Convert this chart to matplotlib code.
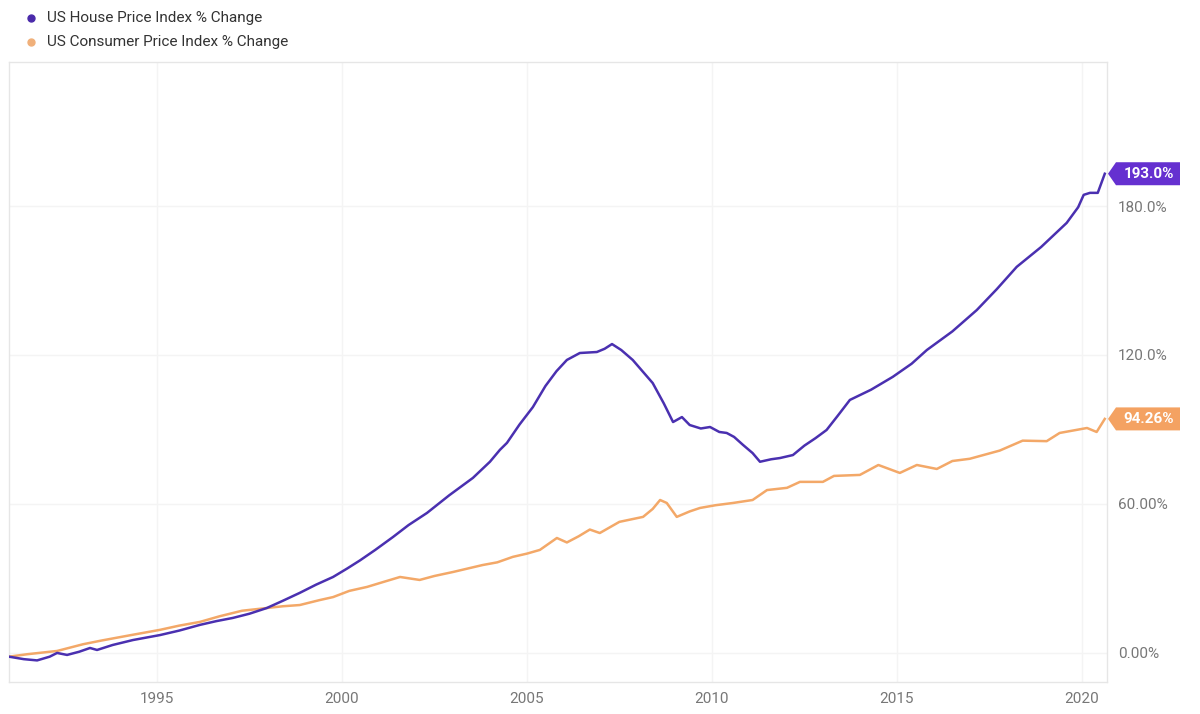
import matplotlib
matplotlib.use("Agg")
import matplotlib.pyplot as plt
from matplotlib.patches import Polygon
from matplotlib.lines import Line2D
from matplotlib.transforms import IdentityTransform

plt.rcParams['font.family'] = ['Roboto', 'DejaVu Sans']

# ---- data ----
house_years = [1991.00, 1991.40, 1991.76, 1992.10, 1992.30, 1992.57, 1992.90, 1993.19, 1993.38,
               1993.80, 1994.35, 1995.08, 1995.60, 1996.16, 1996.60, 1997.05, 1997.50, 1997.97,
               1998.40, 1998.86, 1999.30, 1999.76, 2000.14, 2000.49, 2000.90, 2001.38, 2001.80,
               2002.30, 2002.90, 2003.54, 2004.00, 2004.27, 2004.46, 2004.80, 2005.16, 2005.50,
               2005.80, 2006.08, 2006.43, 2006.89, 2007.10, 2007.30, 2007.55, 2007.86, 2008.40,
               2008.70, 2008.95, 2009.19, 2009.40, 2009.70, 2009.95, 2010.20, 2010.40, 2010.60,
               2010.84, 2011.10, 2011.30, 2011.60, 2011.84, 2012.19, 2012.50, 2012.80, 2013.10,
               2013.40, 2013.73, 2014.30, 2014.89, 2015.40, 2015.81, 2016.50, 2017.16, 2017.70,
               2018.24, 2018.90, 2019.59, 2019.90, 2020.05, 2020.22, 2020.43, 2020.62]
house_values = [-1.5, -2.5, -3.0, -1.5, 0.0, -0.8, 0.5, 2.0, 1.2,
                3.2, 5.2, 7.2, 9.0, 11.3, 12.8, 14.1, 15.8, 18.1,
                21.0, 24.2, 27.5, 30.6, 34.0, 37.3, 41.5, 46.7, 51.5,
                56.4, 63.5, 70.5, 77.0, 81.8, 84.6, 92.0, 99.0, 107.5,
                113.5, 118.0, 120.8, 121.2, 122.5, 124.4, 122.0, 118.0, 108.7,
                100.5, 93.0, 95.0, 91.8, 90.4, 91.0, 89.0, 88.6, 87.0,
                83.8, 80.5, 77.0, 78.0, 78.5, 79.7, 83.5, 86.5, 89.8,
                95.5, 101.9, 106.0, 111.2, 116.5, 122.0, 129.5, 138.1, 146.5,
                155.5, 163.5, 173.2, 179.5, 184.5, 185.3, 185.3, 193.0]

cpi_years = [1991.00, 1991.50, 1992.30, 1993.00, 1993.50, 1994.30, 1995.08, 1995.60, 1996.16,
             1996.70, 1997.30, 1997.97, 1998.40, 1998.86, 1999.40, 1999.76, 2000.20, 2000.68,
             2001.10, 2001.57, 2002.10, 2002.50, 2003.00, 2003.40, 2003.80, 2004.20, 2004.62,
             2005.00, 2005.35, 2005.81, 2006.08, 2006.40, 2006.70, 2006.97, 2007.50, 2008.14,
             2008.40, 2008.60, 2008.78, 2009.05, 2009.40, 2009.68, 2010.10, 2010.57, 2011.10,
             2011.49, 2012.03, 2012.38, 2013.00, 2013.30, 2014.00, 2014.50, 2015.08, 2015.54,
             2016.08, 2016.50, 2016.97, 2017.78, 2018.40, 2019.05, 2019.40, 2020.14, 2020.40,
             2020.62]
cpi_values = [-1.5, -0.5, 0.8, 3.5, 5.0, 7.2, 9.3, 11.0, 12.5,
              14.8, 17.0, 18.1, 18.8, 19.3, 21.3, 22.5, 25.0, 26.6,
              28.5, 30.6, 29.4, 31.0, 32.6, 34.0, 35.4, 36.5, 38.7,
              40.0, 41.5, 46.3, 44.5, 47.0, 49.7, 48.3, 52.8, 54.8,
              58.0, 61.6, 60.4, 54.8, 57.0, 58.4, 59.5, 60.4, 61.6,
              65.6, 66.5, 68.9, 68.9, 71.3, 71.7, 75.7, 72.5, 75.7,
              74.1, 77.3, 78.2, 81.5, 85.5, 85.3, 88.6, 90.6, 89.0,
              94.26]

series_names = ["US House Price Index % Change", "US Consumer Price Index % Change"]
last_labels = ["193.0%", "94.26%"]
x_ticks = [1995, 2000, 2005, 2010, 2015, 2020]
x_tick_labels = ["1995", "2000", "2005", "2010", "2015", "2020"]
y_ticks = [0, 60, 120, 180]
y_tick_labels = ["0.00%", "60.00%", "120.0%", "180.0%"]

house_color = "#4a30b0"
house_tag = "#6530d0"
cpi_color = "#f3a868"
cpi_tag = "#f4a262"

W, H = 1200, 714
fig = plt.figure(figsize=(W / 100, H / 100), dpi=100)
ax = fig.add_axes([9 / W, 1 - 682 / H, (1107 - 9) / W, (682 - 62) / H])

ax.plot(cpi_years, cpi_values, color=cpi_color, lw=1.8, solid_joinstyle='round', zorder=3)
ax.plot(house_years, house_values, color=house_color, lw=1.8, solid_joinstyle='round', zorder=4)

ax.set_xlim(1991.0, 2020.68)
ax.set_ylim(-11.7, 238)

ax.set_xticks(x_ticks)
ax.set_xticklabels(x_tick_labels)
ax.set_yticks(y_ticks)
ax.set_yticklabels(y_tick_labels)
ax.yaxis.tick_right()
ax.tick_params(axis='both', length=0, labelsize=11, labelcolor='#777777')
ax.tick_params(axis='y', pad=8)
ax.tick_params(axis='x', pad=7)
for lbl in ax.get_yticklabels():
    lbl.set_horizontalalignment('left')

ax.grid(True, color='#f4f4f4', lw=1)
ax.set_axisbelow(True)
for s in ax.spines.values():
    s.set_color('#e6e6e6')
    s.set_linewidth(1)

# value tags at right edge
fig.canvas.draw()
ident = IdentityTransform()
x_right = ax.transAxes.transform((1, 0))[0]
for val, txt, col in [(house_values[-1], last_labels[0], house_tag),
                      (cpi_values[-1], last_labels[1], cpi_tag)]:
    yp = ax.transData.transform((2020, val))[1]
    h = 11.5
    bx0 = x_right + 9
    bw = 64
    poly = Polygon([(x_right + 1, yp), (bx0, yp + h), (bx0 + bw, yp + h), (bx0 + bw, yp - h),
                    (bx0, yp - h)], closed=True, fc=col, ec='none', transform=ident,
                   clip_on=False, zorder=10)
    fig.patches.append(poly)
    fig.text((bx0 + bw / 2 + 1) / W, yp / H, txt, ha='center', va='center', color='white',
             fontsize=11, fontweight='bold', zorder=11)

# legend
for i, (name, col) in enumerate(zip(series_names, ["#4a2aaa", "#f0b07a"])):
    yy = 1 - (18 + 24 * i) / H
    fig.add_artist(Line2D([31 / W], [yy], marker='o', markersize=5, color=col, ls='none'))
    fig.text(47 / W, yy, name, ha='left', va='center', fontsize=11, color='#333333')

fig.savefig("out.png", dpi=100)
